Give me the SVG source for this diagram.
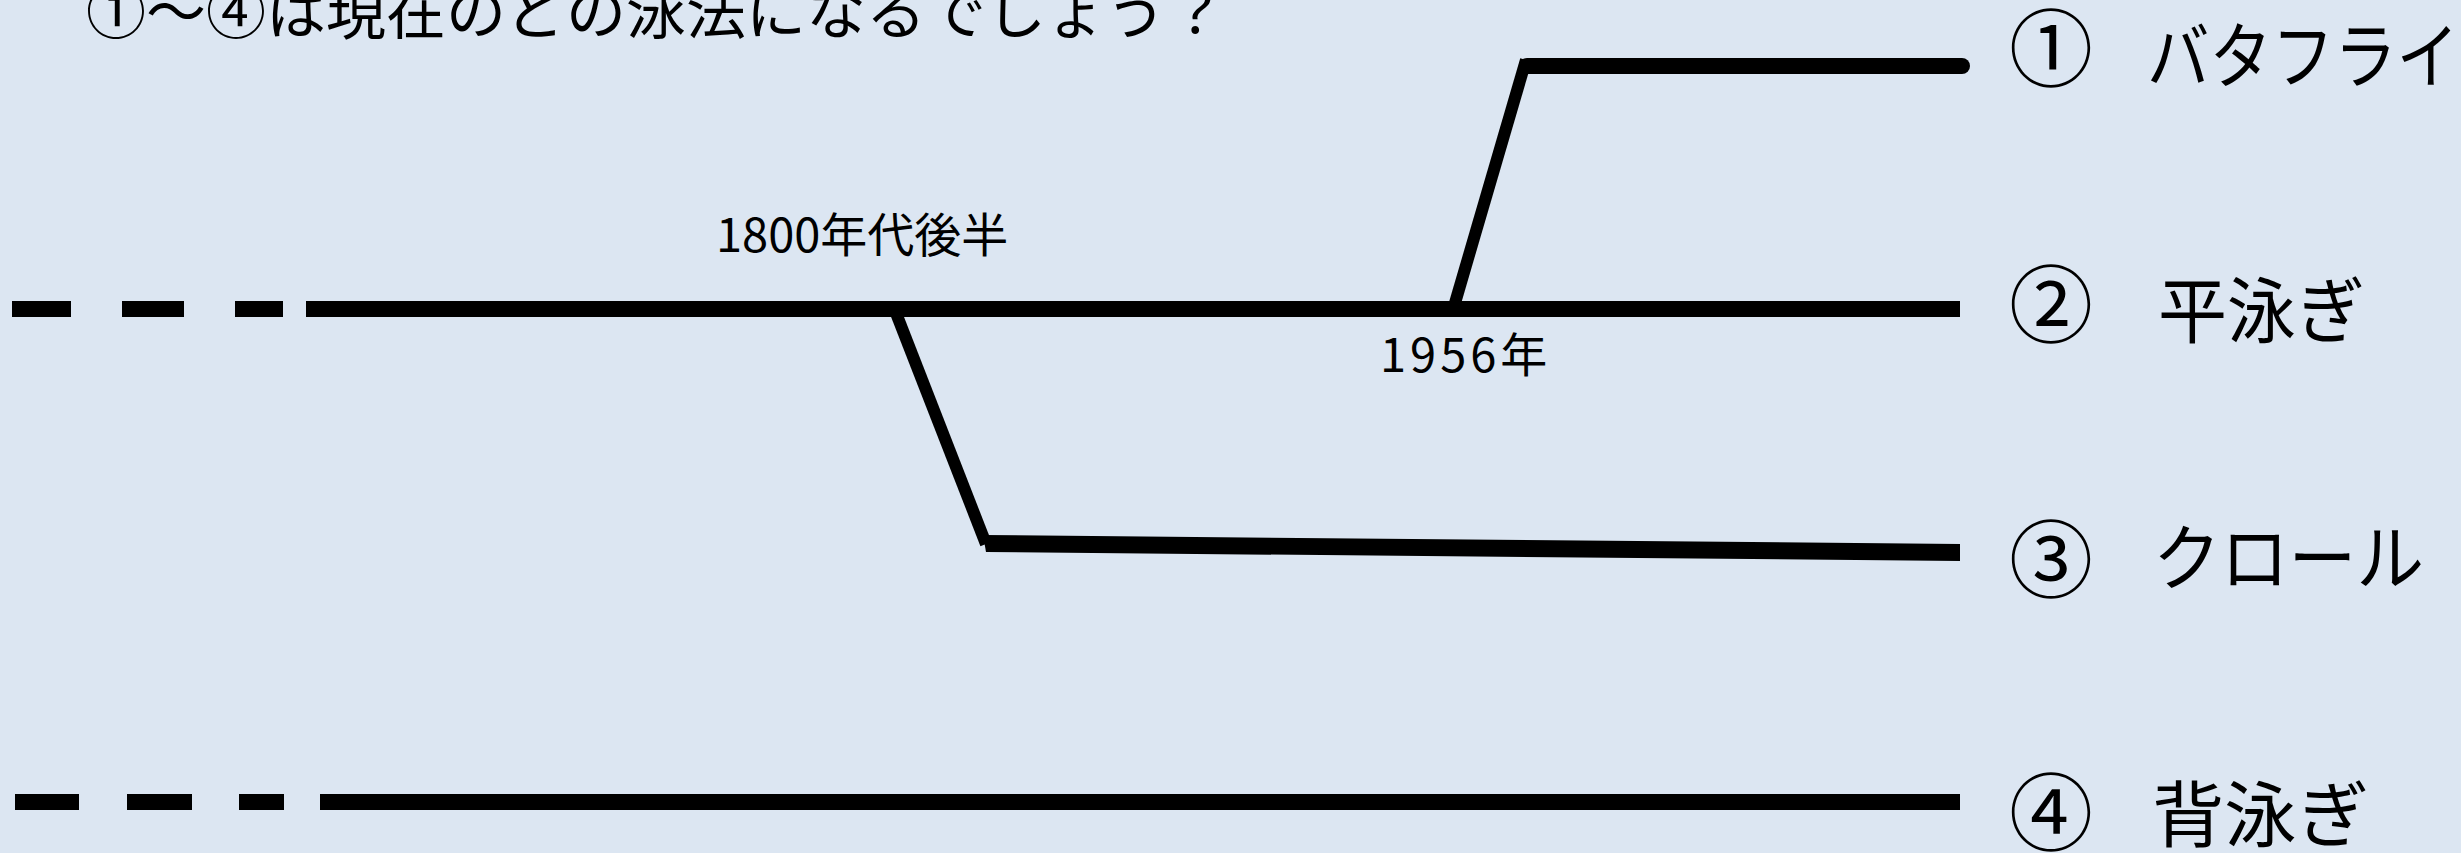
<svg xmlns="http://www.w3.org/2000/svg" width="2461" height="853" viewBox="0 0 2461 853">
<style>
.t{font-family:"Noto Sans CJK JP","Noto Sans CJK SC",sans-serif;fill:#000}
.title{font-size:60px}
.yr{font-size:47px}
.num{font-size:84px}
.nm{font-size:72px}
.h{stroke:#000;stroke-width:16;fill:none}
.d{stroke:#000;stroke-width:12;fill:none;stroke-linejoin:miter}
</style>
<rect width="2461" height="853" fill="#dce6f2"/>
<g id="title"><text class="t title" x="86" y="34">①～④は現在のどの泳法になるでしょう？</text></g>
<g id="connectors">
  <g id="line2">
    <line class="h" x1="12" y1="309" x2="71" y2="309"/>
    <line class="h" x1="122" y1="309" x2="184" y2="309"/>
    <line class="h" x1="235" y1="309" x2="283" y2="309"/>
    <line class="h" x1="306" y1="309" x2="1960" y2="309"/>
  </g>
  <g id="line4">
    <line class="h" x1="15" y1="802" x2="79" y2="802"/>
    <line class="h" x1="127" y1="802" x2="192" y2="802"/>
    <line class="h" x1="239" y1="802" x2="284" y2="802"/>
    <line class="h" x1="320" y1="802" x2="1960" y2="802"/>
  </g>
  <g id="branch1">
    <line class="d" x1="1455" y1="303" x2="1526" y2="60"/>
    <line class="h" x1="1527" y1="66" x2="1962" y2="66" stroke-width="15" stroke-linecap="round"/>
  </g>
  <g id="branch3">
    <line class="d" x1="896" y1="313" x2="986" y2="544"/>
    <polygon points="983,535 1960,544 1960,561 986,552" fill="#000"/>
  </g>
</g>
<g id="label-1800"><text class="t yr" x="716" y="252">1800年代後半</text></g>
<g id="label-1956"><text class="t yr" x="1380" y="372" letter-spacing="4">1956年</text></g>
<g id="node1">
  <text class="t num" x="2051" y="80" text-anchor="middle">①</text>
  <text class="t nm" x="2147" y="82" textLength="312" lengthAdjust="spacingAndGlyphs">バタフライ</text>
</g>
<g id="node2">
  <text class="t num" x="2051" y="336" text-anchor="middle">②</text>
  <text class="t nm" x="2158" y="337" textLength="207" lengthAdjust="spacingAndGlyphs">平泳ぎ</text>
</g>
<g id="node3">
  <text class="t num" x="2051" y="591" text-anchor="middle">③</text>
  <text class="t nm" x="2153" y="584" textLength="271" lengthAdjust="spacingAndGlyphs">クロール</text>
</g>
<g id="node4">
  <text class="t num" x="2051" y="844" text-anchor="middle">④</text>
  <text class="t nm" x="2152" y="841" textLength="217" lengthAdjust="spacingAndGlyphs">背泳ぎ</text>
</g>
</svg>
